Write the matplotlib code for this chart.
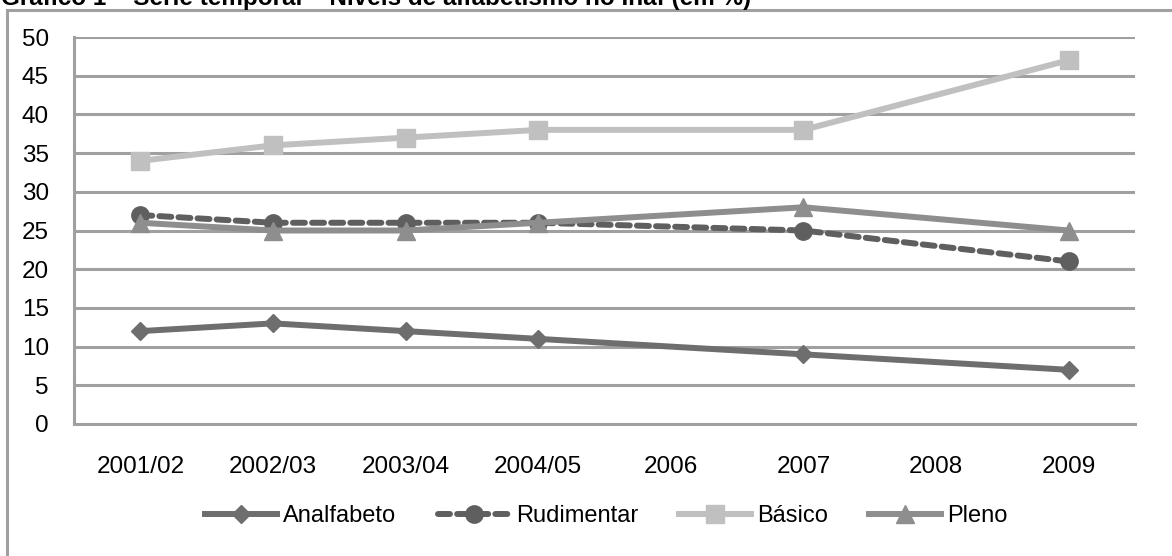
import matplotlib
matplotlib.use("Agg")
import matplotlib.pyplot as plt
from matplotlib.patches import Rectangle
import numpy as np

plt.rcParams['font.family'] = ['Liberation Sans', 'DejaVu Sans']

categories = ["2001/02", "2002/03", "2003/04", "2004/05", "2006", "2007", "2008", "2009"]
analfabeto = [12, 13, 12, 11, None, 9, None, 7]
rudimentar = [27, 26, 26, 26, None, 25, None, 21]
basico = [34, 36, 37, 38, None, 38, None, 47]
pleno = [26, 25, 25, 26, None, 28, None, 25]
title = "Gráfico 1 – Série temporal – Níveis de alfabetismo no Inaf (em %)"

W, H = 1172, 556
fig = plt.figure(figsize=(W / 100, H / 100), dpi=100)

# outer frame
fig.patches.append(Rectangle((7 / W, -0.1), 1.2, (H - 10) / H + 0.1, transform=fig.transFigure,
                             fill=False, edgecolor='#a0a0a0', linewidth=2.2))
fig.text(1 / W, 1 - 5 / H, title, fontsize=17.5, fontweight='bold', ha='left', va='baseline')

ax = fig.add_axes([74 / W, (H - 424) / H, (1135 - 74) / W, (424 - 37) / H])

def plot_series(vals, **kw):
    xs = [i for i, v in enumerate(vals) if v is not None]
    ys = [v for v in vals if v is not None]
    ax.plot(xs, ys, **kw)

lw = 4.3
plot_series(analfabeto, color='#6e6e6e', lw=lw, marker='D', ms=9, label='Analfabeto', zorder=3)
plot_series(rudimentar, color='#5f5f5f', lw=lw, ls=(0, (2.0, 1.2)), marker='o', ms=12.5,
            label='Rudimentar', zorder=4, dash_capstyle='round')
plot_series(basico, color='#c0c0c0', lw=lw, marker='s', ms=12.5, label='Básico', zorder=3)
plot_series(pleno, color='#8e8e8e', lw=lw, marker='^', ms=13, label='Pleno', zorder=5)

ax.set_xlim(-0.5, 7.5)
ax.set_ylim(0, 50)
ax.set_yticks(np.arange(0, 51, 5))
ax.set_xticks(range(len(categories)))
ax.set_xticklabels(categories)
ax.grid(axis='y', color='#a0a0a0', lw=2.2)
ax.set_axisbelow(True)
for s in ['top', 'right']:
    ax.spines[s].set_visible(False)
ax.spines['left'].set_color('#a0a0a0')
ax.spines['left'].set_linewidth(2.2)
ax.spines['bottom'].set_color('#a0a0a0')
ax.spines['bottom'].set_linewidth(2.2)
ax.tick_params(axis='both', length=0, labelsize=17.5)
ax.tick_params(axis='x', pad=23)
ax.tick_params(axis='y', pad=18)

fig.legend(loc='center', bbox_to_anchor=(0.5175, 1 - 516 / H), ncol=4, frameon=False,
           fontsize=17, handlelength=3.05, columnspacing=1.75, handletextpad=0.25)

fig.savefig('out.png', dpi=100)
